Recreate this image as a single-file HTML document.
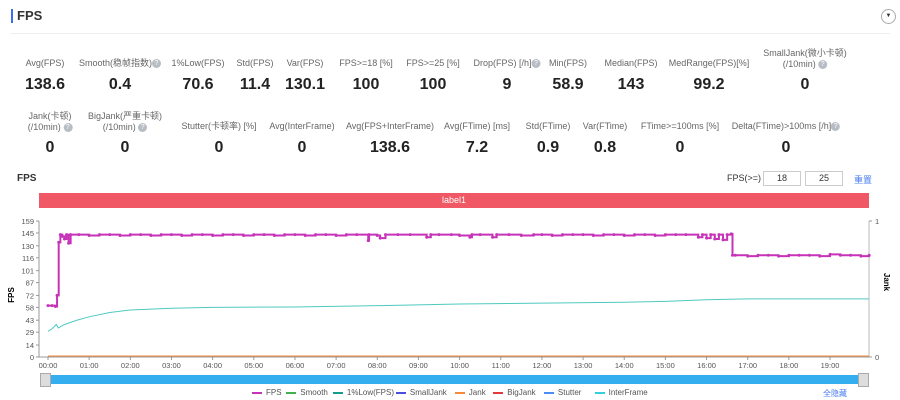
<!DOCTYPE html>
<html><head><meta charset="utf-8">
<style>
body{margin:0;width:900px;height:400px;background:#fff;font-family:"Liberation Sans","Noto Sans CJK SC",sans-serif;position:relative;overflow:hidden;color:#333}
.a{position:absolute;white-space:nowrap}
.l{font-size:9px;color:#666;transform:translateX(-50%);text-align:center;line-height:11px}
.v{font-size:16px;font-weight:bold;color:#222;transform:translateX(-50%)}
.q{display:inline-block;width:9px;height:9px;border-radius:50%;background:#b8bcc4;color:#fff;font-size:7px;line-height:9px;text-align:center;vertical-align:middle}
.box{position:absolute;border:1px solid #ccc;height:13px;font-size:9px;text-align:center;line-height:13px}
</style></head><body>
<div class="a" style="left:11px;top:9px;width:2px;height:14px;background:#3b6cf6"></div>
<div class="a" style="left:17px;top:8px;font-size:13px;font-weight:bold">FPS</div>
<div class="a" style="left:881px;top:9px;width:13px;height:13px;border:1px solid #aaa;border-radius:50%;font-size:6px;text-align:center;line-height:13px">▼</div>
<div class="a" style="left:10px;top:33px;width:880px;height:1px;background:#eee"></div>

<div id="stats"></div>

<div class="a" style="left:17px;top:173px;font-size:10px;font-weight:bold">FPS</div>
<div class="a" style="left:727px;top:173px;font-size:9px">FPS(&gt;=)</div>
<div class="box" style="left:763px;top:171px;width:36px">18</div>
<div class="box" style="left:805px;top:171px;width:36px">25</div>
<div class="a" style="left:854px;top:173px;font-size:9px;color:#4a7cf0">重置</div>
<div class="a" style="left:39px;top:193px;width:830px;height:15px;background:#ef5864;color:#fff;font-size:9px;text-align:center;line-height:15px">label1</div>

<svg id="chart" width="900" height="400" style="position:absolute;left:0;top:0" font-family="Liberation Sans, sans-serif"></svg>

<div class="a" style="left:40px;top:375px;width:828px;height:9px;background:#35aef0"></div>
<div class="a" style="left:40px;top:373px;width:9px;height:12px;background:#ddd;border:1px solid #aaa"></div>
<div class="a" style="left:858px;top:373px;width:9px;height:12px;background:#ddd;border:1px solid #aaa"></div>
<div id="legend"></div>
<div class="a" style="left:823px;top:388px;font-size:8px;color:#4a7cf0">全隐藏</div>

<script>
const statLabels1=["Avg(FPS)","Smooth(稳帧指数)?","1%Low(FPS)","Std(FPS)","Var(FPS)","FPS>=18 [%]","FPS>=25 [%]","Drop(FPS) [/h]?","Min(FPS)","Median(FPS)","MedRange(FPS)[%]","SmallJank(微小卡顿)<br>(/10min) ?"];
const statValues1=["138.6","0.4","70.6","11.4","130.1","100","100","9","58.9","143","99.2","0"];
const statX1=[45,120,198,255,305,366,433,507,568,631,709,805];
const statLabels2=["Jank(卡顿)<br>(/10min) ?","BigJank(严重卡顿)<br>(/10min) ?","Stutter(卡顿率) [%]","Avg(InterFrame)","Avg(FPS+InterFrame)","Avg(FTime) [ms]","Std(FTime)","Var(FTime)","FTime>=100ms [%]","Delta(FTime)>100ms [/h]?"];
const statValues2=["0","0","0","0","138.6","7.2","0.9","0.8","0","0"];
const statX2=[50,125,219,302,390,477,548,605,680,786];
const st=document.getElementById('stats');
function addStat(lbl,val,x,ly,vy,i,row){
  const d=document.createElement('div');d.className='a l';
  
  
  d.style.left=x+'px';d.style.top=(lbl.includes('<br>')?ly-10:ly)+'px';
  d.innerHTML=lbl.replace(/\?/g,'<span class="q">?</span>');st.appendChild(d);
  const v=document.createElement('div');v.className='a v';
  
  
  v.style.left=x+'px';v.style.top=vy+'px';v.textContent=val;st.appendChild(v);
}
statLabels1.forEach((l,i)=>addStat(l,statValues1[i],statX1[i],58,76,i,1));
statLabels2.forEach((l,i)=>addStat(l,statValues2[i],statX2[i],121,139,i,2));

const yTicks=[0,14,29,43,58,72,87,101,116,130,145,159];
const xTickLabels=["00:00","01:00","02:00","03:00","04:00","05:00","06:00","07:00","08:00","09:00","10:00","11:00","12:00","13:00","14:00","15:00","16:00","17:00","18:00","19:00"];
const fpsTime=[0,0.1,0.18,0.22,0.26,0.3,0.35,0.4,0.45,0.5,0.55,0.75,1,1.25,1.5,1.75,2,2.25,2.5,2.75,3,3.25,3.5,3.75,4,4.25,4.5,4.75,5,5.25,5.5,5.75,6,6.25,6.5,6.75,7,7.25,7.5,7.78,7.8,8,8.07,8.2,8.5,8.8,9.2,9.3,9.5,9.8,10,10.25,10.3,10.5,10.8,10.9,11.2,11.5,11.8,12,12.25,12.5,12.75,13,13.25,13.5,13.75,14,14.25,14.5,14.75,15,15.25,15.5,15.8,15.9,16,16.1,16.2,16.3,16.4,16.5,16.6,16.63,16.7,17,17.25,17.5,17.75,18,18.25,18.5,18.75,19,19.25,19.5,19.75,19.95];
const fpsValue=[60,60,59,72,134,143,141,138,143,133,143,143,142,143,143,142,143,143,142,143,143,142,143,143,142,143,143,142,143,143,142,143,143,142,143,143,142,143,143,136,143,142,139,143,143,143,140,143,143,143,142,140,143,143,140,143,143,142,143,143,142,143,143,143,142,143,143,142,143,143,142,143,143,143,140,143,139,143,138,143,137,143,144,119,119,118,119,119,118,119,119,119,118,120,119,119,118,119,119];
const lowTime=[0,0.1,0.2,0.25,0.4,0.7,1,1.5,2,3,4,6,8,10,12,14,15,16,17,19.95];
const lowValue=[30,33,38,34,38,43,47,52,55,57,58,58.5,60,62,63,64,65,67,68,68];
const legendNames=["FPS","Smooth","1%Low(FPS)","SmallJank","Jank","BigJank","Stutter","InterFrame"];
const legendColors=["#c633b8","#3fb14f","#169c8c","#4b4ee0","#f58a3a","#e23a3a","#4c8df5","#35d0e0"];

const X0=48,PX=41.16,Y0=357,PY=136/159,LEFT=39,RIGHT=869,TOP=221;
const xs=t=>X0+PX*t, ys=v=>Y0-v*PY;
const svg=document.getElementById('chart'),NS='http://www.w3.org/2000/svg';
function el(tag,attrs,parent){const e=document.createElementNS(NS,tag);for(const k in attrs)e.setAttribute(k,attrs[k]);(parent||svg).appendChild(e);return e;}
const yl=el('line',{x1:LEFT,y1:TOP,x2:LEFT,y2:Y0,stroke:'#999'});


const rl=el('line',{x1:RIGHT,y1:TOP,x2:RIGHT,y2:Y0,stroke:'#bbb'});


const xl=el('line',{x1:LEFT,y1:Y0,x2:RIGHT,y2:Y0,stroke:'#999'});


yTicks.forEach(v=>{
  el('line',{x1:LEFT-3,y1:ys(v),x2:LEFT,y2:ys(v),stroke:'#999'});
  const t=el('text',{x:LEFT-5,y:ys(v)+3,'font-size':7.5,fill:'#555','text-anchor':'end'});t.textContent=v;
  
  
});
xTickLabels.forEach((s,i)=>{
  el('line',{x1:xs(i),y1:Y0,x2:xs(i),y2:Y0+3,stroke:'#999'});
  const t=el('text',{x:xs(i),y:Y0+11,'font-size':7.5,fill:'#555','text-anchor':'middle'});t.textContent=s;
  
  
});
[[1,TOP],[0,Y0]].forEach(([v,y])=>{el('line',{x1:RIGHT,y1:y,x2:RIGHT+3,y2:y,stroke:'#999'});const t=el('text',{x:RIGHT+6,y:y+3,'font-size':7.5,fill:'#555'});t.textContent=v;
  
  });
const yt=el('text',{x:0,y:0,'font-size':8,'font-weight':'bold',transform:'translate(14,295) rotate(-90)','text-anchor':'middle'});yt.textContent='FPS';


const rt=el('text',{x:0,y:0,'font-size':8,'font-weight':'bold',transform:'translate(884,282) rotate(90)','text-anchor':'middle'});rt.textContent='Jank';


const z=el('line',{x1:xs(0),y1:Y0-1,x2:xs(19.95),y2:Y0-1,stroke:'#f58a3a','stroke-width':1});


const lp=el('polyline',{points:lowTime.map((t,i)=>xs(t)+','+ys(lowValue[i])).join(' '),fill:'none',stroke:'#4fc9c0','stroke-width':1});


let pts=[];fpsTime.forEach((t,i)=>{if(i>0)pts.push(xs(t)+','+ys(fpsValue[i-1]));pts.push(xs(t)+','+ys(fpsValue[i]));});
const fp=el('polyline',{points:pts.join(' '),fill:'none',stroke:'#c633b8','stroke-width':2});


fpsTime.forEach((t,i)=>{const c=el('circle',{cx:xs(t),cy:ys(fpsValue[i]),r:1.5,fill:'#c633b8'});
  
  });
const lg=document.getElementById('legend');let lx=252;
legendNames.forEach((n,i)=>{
  const d=document.createElement('div');d.className='a';
  
  
  d.style.left=lx+'px';d.style.top='388px';d.style.fontSize='8px';d.style.color='#555';
  d.innerHTML='<span style="display:inline-block;width:10px;height:2px;background:'+legendColors[i]+';vertical-align:middle;margin-right:4px"></span>'+n;
  lg.appendChild(d);lx+=n.length*4.1+22;
});
</script>
</body></html>
